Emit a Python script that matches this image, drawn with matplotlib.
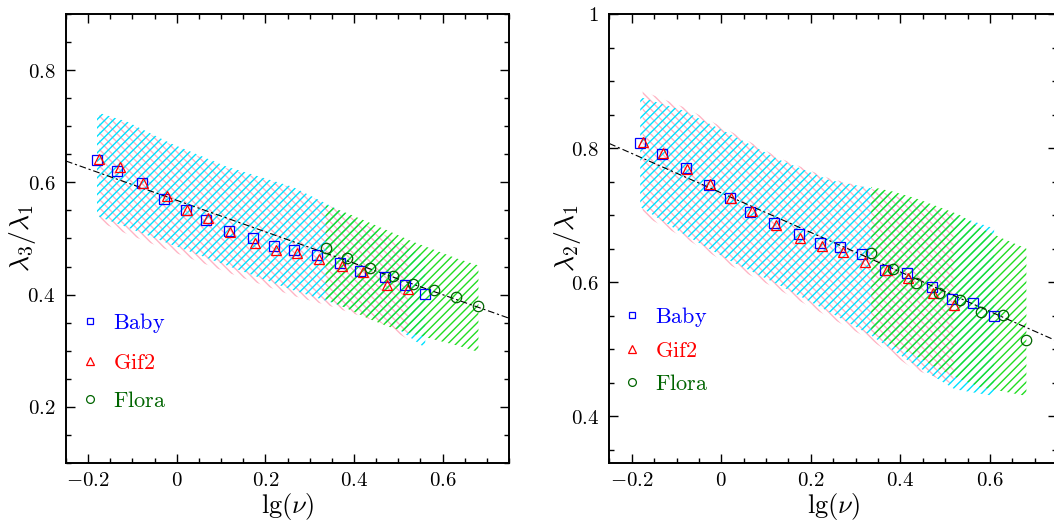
import matplotlib
matplotlib.use("Agg")
import matplotlib.pyplot as plt
from matplotlib.ticker import MultipleLocator, FuncFormatter

plt.rcParams['mathtext.fontset'] = 'cm'
plt.rcParams['font.family'] = 'DejaVu Serif'
plt.rcParams['hatch.linewidth'] = 1.0

# ---------------- lambda3 / lambda1 ----------------
l31_baby_x = [-0.180, -0.1345, -0.079, -0.0285, 0.0205, 0.0657, 0.117, 0.1725,
              0.219, 0.264, 0.3155, 0.3675, 0.4135, 0.470, 0.515, 0.561]
l31_baby_y = [0.639, 0.621, 0.599, 0.570, 0.550, 0.533, 0.513, 0.501,
              0.486, 0.480, 0.470, 0.456, 0.442, 0.4315, 0.418, 0.402]
l31_gif2_x = [-0.175, -0.128, -0.076, -0.023, 0.0235, 0.071, 0.120, 0.177,
              0.225, 0.272, 0.321, 0.373, 0.421, 0.475, 0.5225]
l31_gif2_y = [0.642, 0.628, 0.598, 0.576, 0.550, 0.536, 0.512, 0.492,
              0.480, 0.475, 0.4635, 0.451, 0.440, 0.417, 0.4095]
l31_flora_x = [0.336, 0.385, 0.436, 0.488, 0.534, 0.581, 0.630, 0.681]
l31_flora_y = [0.483, 0.466, 0.448, 0.433, 0.419, 0.408, 0.396, 0.380]

# scatter envelopes of each simulation
l31_baby_band_x = [-0.180, -0.112, -0.015, 0.113, 0.262, 0.353, 0.488, 0.561]
l31_baby_band_hi = [0.725, 0.708, 0.670, 0.628, 0.592, 0.556, 0.498, 0.467]
l31_baby_band_lo = [0.540, 0.520, 0.490, 0.452, 0.408, 0.385, 0.345, 0.305]
l31_gif2_band_x = [-0.175, -0.112, -0.015, 0.113, 0.262, 0.353, 0.460, 0.5225]
l31_gif2_band_hi = [0.720, 0.705, 0.668, 0.625, 0.590, 0.555, 0.510, 0.485]
l31_gif2_band_lo = [0.530, 0.508, 0.478, 0.440, 0.398, 0.378, 0.350, 0.320]
l31_flora_band_x = [0.336, 0.385, 0.436, 0.488, 0.534, 0.581, 0.630, 0.681]
l31_flora_band_hi = [0.560, 0.545, 0.528, 0.510, 0.494, 0.480, 0.465, 0.452]
l31_flora_band_lo = [0.392, 0.375, 0.356, 0.340, 0.330, 0.320, 0.310, 0.298]

# fitted relation y = a + b * lg(nu)
l31_fit = (0.568, -0.280)

# ---------------- lambda2 / lambda1 ----------------
l21_baby_x = [-0.1814, -0.133, -0.0796, -0.0275, 0.0193, 0.0647, 0.118, 0.1725,
              0.2193, 0.2654, 0.3145, 0.3665, 0.414, 0.4714, 0.5145, 0.561, 0.609]
l21_baby_y = [0.8075, 0.7905, 0.770, 0.745, 0.726, 0.7045, 0.6886, 0.6716,
              0.6587, 0.6522, 0.6418, 0.618, 0.613, 0.592, 0.574, 0.569, 0.549]
l21_gif2_x = [-0.1755, -0.1294, -0.0758, -0.0245, 0.0223, 0.069, 0.121, 0.176,
              0.2238, 0.2706, 0.3197, 0.370, 0.417, 0.4736, 0.519]
l21_gif2_y = [0.809, 0.793, 0.768, 0.747, 0.725, 0.7055, 0.6856, 0.666,
              0.654, 0.645, 0.630, 0.618, 0.6065, 0.583, 0.5657]
l21_flora_x = [0.3346, 0.383, 0.434, 0.486, 0.533, 0.580, 0.628, 0.681]
l21_flora_y = [0.644, 0.620, 0.5985, 0.584, 0.5736, 0.5557, 0.551, 0.513]

l21_baby_band_x = [-0.181, -0.085, 0.019, 0.131, 0.242, 0.335, 0.428, 0.521, 0.609]
l21_baby_band_hi = [0.876, 0.856, 0.821, 0.782, 0.752, 0.740, 0.722, 0.700, 0.680]
l21_baby_band_lo = [0.712, 0.672, 0.632, 0.595, 0.555, 0.520, 0.478, 0.440, 0.430]
l21_gif2_band_x = [-0.1755, -0.080, 0.020, 0.130, 0.240, 0.330, 0.430, 0.519]
l21_gif2_band_hi = [0.885, 0.860, 0.825, 0.785, 0.755, 0.740, 0.720, 0.700]
l21_gif2_band_lo = [0.700, 0.665, 0.625, 0.588, 0.548, 0.515, 0.470, 0.447]
l21_flora_band_x = [0.3346, 0.383, 0.434, 0.486, 0.533, 0.580, 0.628, 0.681]
l21_flora_band_hi = [0.742, 0.735, 0.725, 0.712, 0.700, 0.680, 0.665, 0.650]
l21_flora_band_lo = [0.525, 0.505, 0.490, 0.470, 0.455, 0.443, 0.437, 0.430]

l21_fit = (0.733, -0.295)

sim_names = ['Baby', 'Gif2', 'Flora']
marker_colors = ['#0000ff', '#ff0000', '#006400']
band_colors = ['#00e1ff', '#ffb4c4', '#22dd22']
band_hatches = ['////', '\\\\\\\\', '////']

W, H = 1054, 520
fig = plt.figure(figsize=(W / 100, H / 100), dpi=100)
ax_l = fig.add_axes([66 / W, 57 / H, 443 / W, 449 / H])
ax_r = fig.add_axes([609.3 / W, 57 / H, 448 / W, 449 / H])


def tick_fmt(v, pos):
    s = f'{v:.2f}'.rstrip('0').rstrip('.')
    if s in ('-0', '-0.'):
        s = '0'
    return f'${s}$'


def draw_panel(ax, pts, bands, fit, ylim, ylabel, leg_anchor, leg_spacing):
    # hatched envelopes: pink, cyan, then green on top
    for i in (1, 0, 2):
        bx, lo, hi = bands[i]
        ax.fill_between(bx, lo, hi, facecolor='none', edgecolor=band_colors[i],
                        hatch=band_hatches[i], linewidth=0, zorder=1)
    xs = [-0.25, 0.75]
    a, b = fit
    ax.plot(xs, [a + b * x for x in xs], color='black', lw=0.8,
            dashes=(6, 2.5, 2, 2.5), zorder=2)
    handles = []
    styles = [('s', 6.5), ('^', 7.5), ('o', 7.5)]
    for i, (x, y) in enumerate(pts):
        m, ms = styles[i]
        h, = ax.plot(x, y, ls='none', marker=m, ms=ms, mfc='none',
                     mec=marker_colors[i], mew=0.9, label=f'$\\mathrm{{{sim_names[i]}}}$',
                     zorder=3 + i)
        handles.append(h)
    ax.legend(handles=handles, loc='upper left', bbox_to_anchor=leg_anchor,
              frameon=False, fontsize=16, markerscale=0.75, handlelength=0.5,
              handletextpad=0.8, labelspacing=leg_spacing, borderpad=0,
              borderaxespad=0, labelcolor='markeredgecolor')

    ax.set_xlim(-0.25, 0.75)
    ax.set_ylim(*ylim)
    ax.xaxis.set_major_locator(MultipleLocator(0.2))
    ax.xaxis.set_minor_locator(MultipleLocator(0.05))
    ax.yaxis.set_major_locator(MultipleLocator(0.2))
    ax.yaxis.set_minor_locator(MultipleLocator(0.05))
    ax.xaxis.set_major_formatter(FuncFormatter(tick_fmt))
    ax.yaxis.set_major_formatter(FuncFormatter(tick_fmt))
    ax.tick_params(which='both', direction='in', top=True, right=True,
                   width=1.0, labelsize=15)
    ax.tick_params(axis='x', which='major', pad=6)
    ax.tick_params(axis='y', which='major', pad=7.5)
    ax.tick_params(which='major', length=6.5)
    ax.tick_params(which='minor', length=3.5)
    for sp in ax.spines.values():
        sp.set_linewidth(1.4)
    ax.set_xlabel(r'$\mathrm{lg}(\nu)$', fontsize=19)
    ax.set_ylabel(ylabel, fontsize=20)
    ax.xaxis.set_label_coords(0.5, -0.062)


draw_panel(ax_l,
           [(l31_baby_x, l31_baby_y), (l31_gif2_x, l31_gif2_y), (l31_flora_x, l31_flora_y)],
           [(l31_baby_band_x, l31_baby_band_lo, l31_baby_band_hi),
            (l31_gif2_band_x, l31_gif2_band_lo, l31_gif2_band_hi),
            (l31_flora_band_x, l31_flora_band_lo, l31_flora_band_hi)],
           l31_fit, (0.1, 0.9), r'$\lambda_3/\lambda_1$', (0.041, 0.338), 0.74)
ax_l.yaxis.set_label_coords(-0.063, 0.5)

draw_panel(ax_r,
           [(l21_baby_x, l21_baby_y), (l21_gif2_x, l21_gif2_y), (l21_flora_x, l21_flora_y)],
           [(l21_baby_band_x, l21_baby_band_lo, l21_baby_band_hi),
            (l21_gif2_band_x, l21_gif2_band_lo, l21_gif2_band_hi),
            (l21_flora_band_x, l21_flora_band_lo, l21_flora_band_hi)],
           l21_fit, (0.33, 1.0), r'$\lambda_2/\lambda_1$', (0.038, 0.353), 0.5)
ax_r.yaxis.set_label_coords(-0.058, 0.5)

fig.savefig('out.png', dpi=100)
